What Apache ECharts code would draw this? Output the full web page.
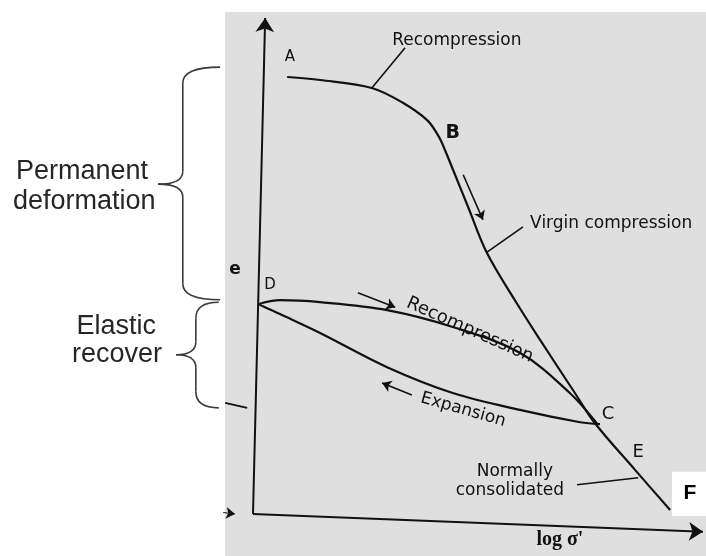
<!DOCTYPE html>
<html><head><meta charset="utf-8">
<script src="https://cdn.jsdelivr.net/npm/echarts@6/dist/echarts.min.js"></script>
<style>html,body{margin:0;padding:0;background:#fff}#c{width:706px;height:556px}</style>
</head><body><div id="c"></div>
<script>
// ---- data (log σ' on x, void ratio e on y, arbitrary units; axes origin at 0,0) ----
const compressionCurve = [[0.76,8.81],[1.49,8.75],[2.64,8.59],[3.33,8.29],[3.87,7.94],[4.11,7.64],[4.20,7.48],[4.49,6.84],[4.78,6.19],[5.20,5.26],[5.82,4.31],[6.38,3.51],[7.11,2.50],[7.60,1.83],[8.49,0.89],[9.27,0.08]];
const recompressionBranch = [[0.18,4.25],[0.60,4.31],[1.49,4.27],[2.98,4.11],[4.44,3.77],[5.93,3.25],[7.04,2.44],[7.64,1.83]];
const expansionBranch = [[7.71,1.81],[7.27,1.85],[5.93,2.10],[4.44,2.44],[2.98,2.96],[1.49,3.65],[0.60,4.03],[0.22,4.19],[0.14,4.23],[0.18,4.25]];
const axisLines = [[[0,0],[0.27,10]],[[0,0],[10,-0.36]]];
const directionArrows = [[[2.33,4.46],[3.16,4.17]],[[3.53,2.40],[2.87,2.64]],[[4.67,6.84],[5.11,5.93]]];
const leaderLines = [[[2.64,8.59],[3.38,9.40]],[[5.20,5.28],[6.00,5.79]],[[7.20,0.59],[8.56,0.73]]];
const tickMarks = [[[-0.62,2.24],[-0.13,2.14]]];
const smallArrows = [[[-0.66,0.03],[-0.40,0.0]]];
const labelText = ['Recompression','A','B','Virgin compression','e','D','Recompression','Expansion','C','E','Normally','consolidated',"log σ'",'F'];
const labelPos = [[4.53,9.54],[0.82,9.21],[4.44,7.68],[7.96,5.85],[-0.40,4.92],[0.38,4.62],[4.82,3.71],[4.67,2.10],[7.89,2.00],[8.56,1.25],[5.82,0.85],[5.71,0.48],[6.82,-0.52],[9.71,0.42]];
const sideText = ['Permanent','deformation','Elastic','recover'];
const sidePos = [[-3.80,6.90],[-3.75,6.29],[-3.04,3.77],[-3.02,3.21]];
// braces: [xEnd, xSpine, xTip, yTop, yTip, yBottom]
const braces = [[-0.73,-1.56,-2.11,9.01,6.65,4.32],[-0.76,-1.27,-1.71,4.27,3.21,2.14]];

// ---- styles / layout ----
const INK = '#111111';
const scanFont = 'DejaVu Sans';
const labelStyles = [
  {fontSize:17},{fontSize:15},{fontSize:19,fontWeight:'bold'},{fontSize:17},
  {fontSize:17,fontWeight:'bold'},{fontSize:15},{fontSize:18,rotate:-24},{fontSize:17,rotate:-16},
  {fontSize:18},{fontSize:18},{fontSize:17},{fontSize:17},
  {fontSize:20,fontWeight:'bold',fontFamily:'Liberation Serif'},{fontSize:21,fontWeight:'bold',fontFamily:'Liberation Sans',color:'#000'}
];
const textBase = {show:true, position:'inside', opacity:1, textBorderWidth:0, textShadowBlur:0};

const chart = echarts.init(document.getElementById('c'), null, {renderer:'canvas'});
const toML = segs => segs.map(s => [{coord:s[0]},{coord:s[1]}]);

const option = {
  animation:false,
  backgroundColor:'#ffffff',
  grid:{left:0, top:0, right:0, bottom:0},
  xAxis:{type:'value', min:-5.6222, max:10.0667, show:false},
  yAxis:{type:'value', min:-0.8468, max:10.3629, show:false},
  series:[
    {type:'line', data:compressionCurve, smooth:0.35, symbol:'none', lineStyle:{color:INK,width:2.2}},
    {type:'line', data:recompressionBranch, smooth:0.35, symbol:'none', lineStyle:{color:INK,width:2.2}},
    {type:'line', data:expansionBranch, smooth:0.35, symbol:'none', lineStyle:{color:INK,width:2.2}},
    {type:'line', data:[], markLine:{silent:true, symbol:['none','arrow'], symbolSize:14, label:{show:false}, lineStyle:{color:INK,width:2,type:'solid'}, data:toML(axisLines)}},
    {type:'line', data:[], markLine:{silent:true, symbol:['none','arrow'], symbolSize:9, label:{show:false}, lineStyle:{color:INK,width:1.6,type:'solid'}, data:toML(directionArrows)}},
    {type:'line', data:[], markLine:{silent:true, symbol:['none','none'], label:{show:false}, lineStyle:{color:INK,width:1.6,type:'solid'}, data:toML(leaderLines)}},
    {type:'line', data:[], markLine:{silent:true, symbol:['none','none'], label:{show:false}, lineStyle:{color:INK,width:2,type:'solid'}, data:toML(tickMarks)}},
    {type:'line', data:[], markLine:{silent:true, symbol:['none','arrow'], symbolSize:9, label:{show:false}, lineStyle:{color:INK,width:1,type:'solid'}, data:toML(smallArrows)}},
    {type:'scatter', symbol:'circle', symbolSize:0, itemStyle:{color:INK, opacity:1}, silent:true, z:10,
      data: labelPos.map((p,i) => ({value:p, label:Object.assign({}, textBase, {formatter:labelText[i], color:INK, fontFamily:scanFont}, labelStyles[i])}))},
    {type:'scatter', symbol:'circle', symbolSize:0, itemStyle:{color:INK, opacity:1}, silent:true, z:10,
      data: sidePos.map((p,i) => ({value:p, label:Object.assign({}, textBase, {formatter:sideText[i], color:'#262626', fontFamily:'Liberation Sans', fontSize:27})}))}
  ]
};
chart.setOption(option);

const px = p => chart.convertToPixel({gridIndex:0}, p);
const graphics = [];
// scanned-page background
graphics.push({type:'rect', z:-10, shape:{x:225, y:12, width:481, height:544}, style:{fill:'#dfdfdf'}});
// white label box for F
const fa = px([9.31,0.85]), fb = px([10.07,-0.04]);
graphics.push({type:'rect', z:-5, shape:{x:fa[0], y:fa[1], width:fb[0]-fa[0], height:fb[1]-fa[1]}, style:{fill:'#ffffff'}});
const braceStyle = {fill:null, stroke:'#3a3a3a', lineWidth:1.6};
braces.forEach(b => {
  const [xe,xs,xt,yt,yp,yb] = b;
  const pTop = px([xe,yt]), pBot = px([xe,yb]);
  const sx = px([xs,0])[0], tx = px([xt,0])[0];
  const yT = pTop[1], yB = pBot[1], yP = px([0,yp])[1], xE = pTop[0];
  const r = 16, r2 = 13;
  graphics.push({type:'bezierCurve', z:5, shape:{x1:xE,y1:yT,cpx1:sx,cpy1:yT,x2:sx,y2:yT+r}, style:braceStyle});
  graphics.push({type:'line', z:5, shape:{x1:sx,y1:yT+r,x2:sx,y2:yP-r2}, style:braceStyle});
  graphics.push({type:'bezierCurve', z:5, shape:{x1:sx,y1:yP-r2,cpx1:sx,cpy1:yP,x2:tx,y2:yP}, style:braceStyle});
  graphics.push({type:'bezierCurve', z:5, shape:{x1:tx,y1:yP,cpx1:sx,cpy1:yP,x2:sx,y2:yP+r2}, style:braceStyle});
  graphics.push({type:'line', z:5, shape:{x1:sx,y1:yP+r2,x2:sx,y2:yB-r}, style:braceStyle});
  graphics.push({type:'bezierCurve', z:5, shape:{x1:sx,y1:yB-r,cpx1:sx,cpy1:yB,x2:xE,y2:yB}, style:braceStyle});
});
chart.setOption({graphic:graphics});
</script></body></html>
